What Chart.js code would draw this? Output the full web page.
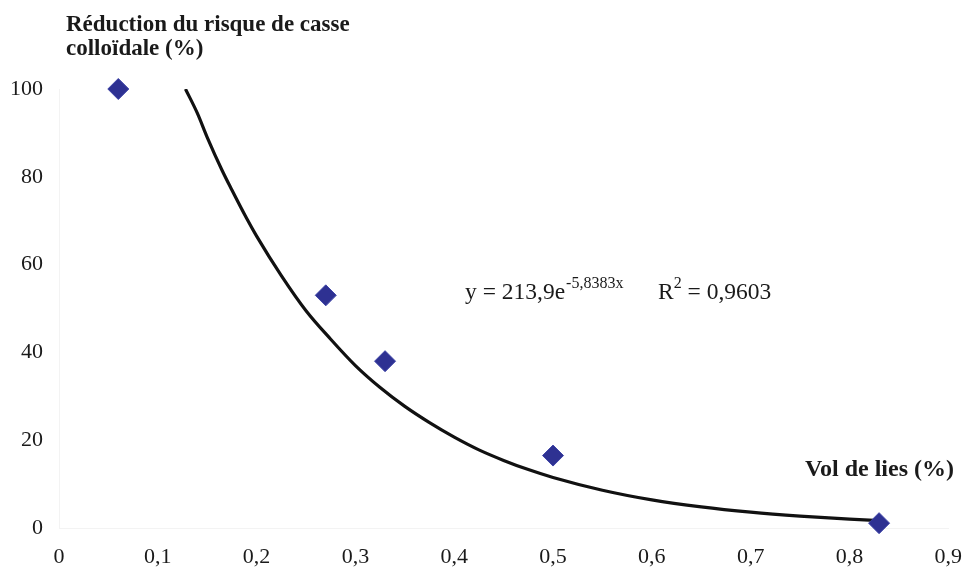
<!DOCTYPE html>
<html>
<head>
<meta charset="utf-8">
<script src="https://cdn.jsdelivr.net/npm/chart.js@4/dist/chart.umd.min.js"></script>
<style>
  html, body { margin: 0; padding: 0; background: #fff; overflow: hidden; }
  #wrap { width: 962px; height: 570px; position: relative; overflow: hidden; }
</style>
</head>
<body>
<div id="wrap"><canvas id="chart" width="978" height="570"></canvas></div>
<script>
// Measured points (Vol de lies %, réduction %)
const pointX = [0.06, 0.27, 0.33, 0.50, 0.83];
const pointY = [100, 53, 38, 16.5, 1.1];

// Trend curve
const curveX = [0.128, 0.14, 0.15, 0.165, 0.175, 0.19, 0.2, 0.225, 0.25, 0.275, 0.3, 0.325, 0.35, 0.375, 0.4, 0.425, 0.45, 0.475, 0.5, 0.55, 0.6, 0.65, 0.7, 0.75, 0.8, 0.83];
const curveY = [100, 94.5, 89, 81.5, 77, 70.5, 66.5, 57.5, 49.5, 43, 37, 32, 27.7, 24, 20.7, 17.8, 15.4, 13.3, 11.5, 8.6, 6.4, 4.8, 3.6, 2.7, 2.0, 1.7];

const yTicks = [0, 20, 40, 60, 80, 100];
const xTicks = [0, 0.1, 0.2, 0.3, 0.4, 0.5, 0.6, 0.7, 0.8, 0.9];

const yTitle = ['Réduction du risque de casse', 'colloïdale (%)'];
const xTitle = 'Vol de lies (%)';

const serif = '"Liberation Serif", "Times New Roman", serif';

// Draws the axis titles and the equation text
const labelsPlugin = {
    id: 'labels',
    afterDraw(chart) {
        const ctx = chart.ctx;
        ctx.save();
        ctx.fillStyle = '#1a1a1a';
        ctx.textBaseline = 'alphabetic';
        ctx.textAlign = 'left';
        ctx.font = 'bold 23px ' + serif;
        ctx.fillText(yTitle[0], 66, 31);
        ctx.fillText(yTitle[1], 66, 55);
        ctx.font = 'bold 24px ' + serif;
        ctx.textAlign = 'right';
        ctx.fillText(xTitle, 954, 476);

        // equation with superscripts
        ctx.textAlign = 'left';
        const base = 299;
        let x = 465;
        ctx.font = '23.5px ' + serif;
        let t = 'y = 213,9e';
        ctx.fillText(t, x, base);
        x += ctx.measureText(t).width + 1;
        ctx.font = '16px ' + serif;
        ctx.fillText('-5,8383x', x, base - 11);

        x = 658;
        ctx.font = '23.5px ' + serif;
        ctx.fillText('R', x, base);
        x += ctx.measureText('R').width;
        ctx.font = '16px ' + serif;
        ctx.fillText('2', x, base - 11);
        x += ctx.measureText('2').width;
        ctx.font = '23.5px ' + serif;
        ctx.fillText(' = 0,9603', x, base);
        ctx.restore();
    }
};

const fmt = v => String(Math.round(v * 10) / 10).replace('.', ',');

new Chart(document.getElementById('chart'), {
    type: 'scatter',
    data: {
        datasets: [
            {
                type: 'line',
                data: curveX.map((x, i) => ({ x: x, y: curveY[i] })),
                borderColor: '#111',
                borderWidth: 3.2,
                pointRadius: 0,
                cubicInterpolationMode: 'monotone',
                fill: false,
                order: 2
            },
            {
                data: pointX.map((x, i) => ({ x: x, y: pointY[i] })),
                pointStyle: 'rectRot',
                pointRadius: 10.5,
                backgroundColor: '#2e3192',
                borderColor: '#3c42a6',
                borderWidth: 1,
                clip: false,
                order: 1
            }
        ]
    },
    options: {
        responsive: false,
        animation: false,
        layout: { padding: { top: 89, right: 0, left: 0, bottom: 0 } },
        plugins: { legend: { display: false }, tooltip: { enabled: false } },
        scales: {
            x: {
                type: 'linear',
                min: 0,
                max: 0.9,
                afterBuildTicks: s => { s.ticks = xTicks.map(v => ({ value: v })); },
                afterFit: s => { s.height = 42; },
                grid: { display: true, drawOnChartArea: false, drawTicks: false, color: '#f3f3f3' },
                border: { color: '#f3f3f3' },
                ticks: {
                    padding: 16,
                    color: '#1a1a1a',
                    font: { family: serif, size: 22 },
                    callback: v => fmt(v),
                    maxRotation: 0,
                    autoSkip: false
                }
            },
            y: {
                min: 0,
                max: 100,
                afterBuildTicks: s => { s.ticks = yTicks.map(v => ({ value: v })); },
                afterFit: s => { s.width = 59; },
                grid: { display: true, drawOnChartArea: false, drawTicks: false, color: '#f3f3f3' },
                border: { color: '#f3f3f3' },
                ticks: {
                    padding: 16,
                    color: '#1a1a1a',
                    font: { family: serif, size: 22 },
                    callback: v => String(v)
                }
            }
        }
    },
    plugins: [labelsPlugin]
});
</script>
</body>
</html>
